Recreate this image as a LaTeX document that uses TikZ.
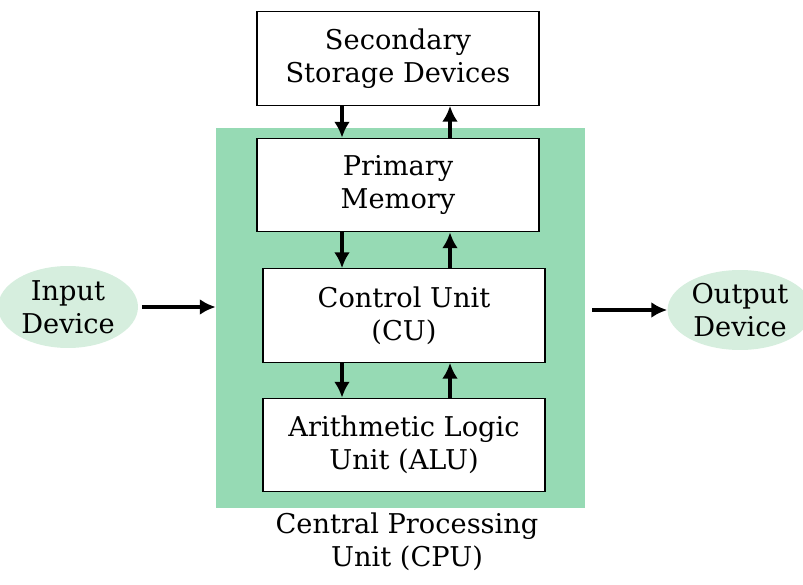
\documentclass[tikz,border=0pt]{standalone}
\usepackage{fontspec}
\setmainfont{DejaVu Serif}
\usepackage{tikz}
\usetikzlibrary{arrows.meta}
\usetikzlibrary{shapes.geometric}

\definecolor{cpugreen}{RGB}{150,218,180}
\definecolor{devgreen}{RGB}{214,238,222}

\tikzset{
    unitbox/.style={draw, fill=white, line width=0.7pt, align=center,
        minimum width=5.64cm, minimum height=1.87cm},
    devicenode/.style={ellipse, fill=devgreen, align=center, inner sep=0pt},
    arr/.style={-{Latex[length=9pt,width=9pt]}, line width=1.8pt}
}

\begin{document}
\begin{tikzpicture}[x=0.02cm, y=-0.02cm,
        every node/.append style={font=\fontsize{15.5}{18.6}\selectfont}]
        \useasboundingbox (0,0) rectangle (803,584);

        \node[fill=cpugreen, minimum width=7.38cm, minimum height=7.6cm] (cpu) at (400.5,318) {};

        \node[unitbox] (secondary) at (398,58.5) {Secondary\\Storage Devices};
        \node[unitbox] (primary) at (398,185) {Primary\\Memory};
        \node[unitbox] (cu) at (404,315.5) {Control Unit\\(CU)};
        \node[unitbox] (alu) at (404,445) {Arithmetic Logic\\Unit (ALU)};
        \node[align=center] (cpulabel) at (407,542) {Central Processing\\Unit (CPU)};

        \node[devicenode, minimum width=2.8cm, minimum height=1.64cm] (input) at (68,307) {Input\\Device};
        \node[devicenode, minimum width=2.9cm, minimum height=1.6cm] (output) at (740,310) {Output\\Device};

        \coordinate (down) at (342,0);
        \coordinate (up) at (450,0);

        \draw[arr] (secondary.south -| down) -- (primary.north -| down);
        \draw[arr] (primary.north -| up) -- (secondary.south -| up);
        \draw[arr] (primary.south -| down) -- (cu.north -| down);
        \draw[arr] (cu.north -| up) -- (primary.south -| up);
        \draw[arr] (cu.south -| down) -- (alu.north -| down);
        \draw[arr] (alu.north -| up) -- (cu.south -| up);

        \draw[arr] ([xshift=2pt]input.east) -- (input.east -| cpu.west);
        \draw[arr, shorten <=4pt] (output.west -| cpu.east) -- (output.west);
    \end{tikzpicture}
\end{document}
